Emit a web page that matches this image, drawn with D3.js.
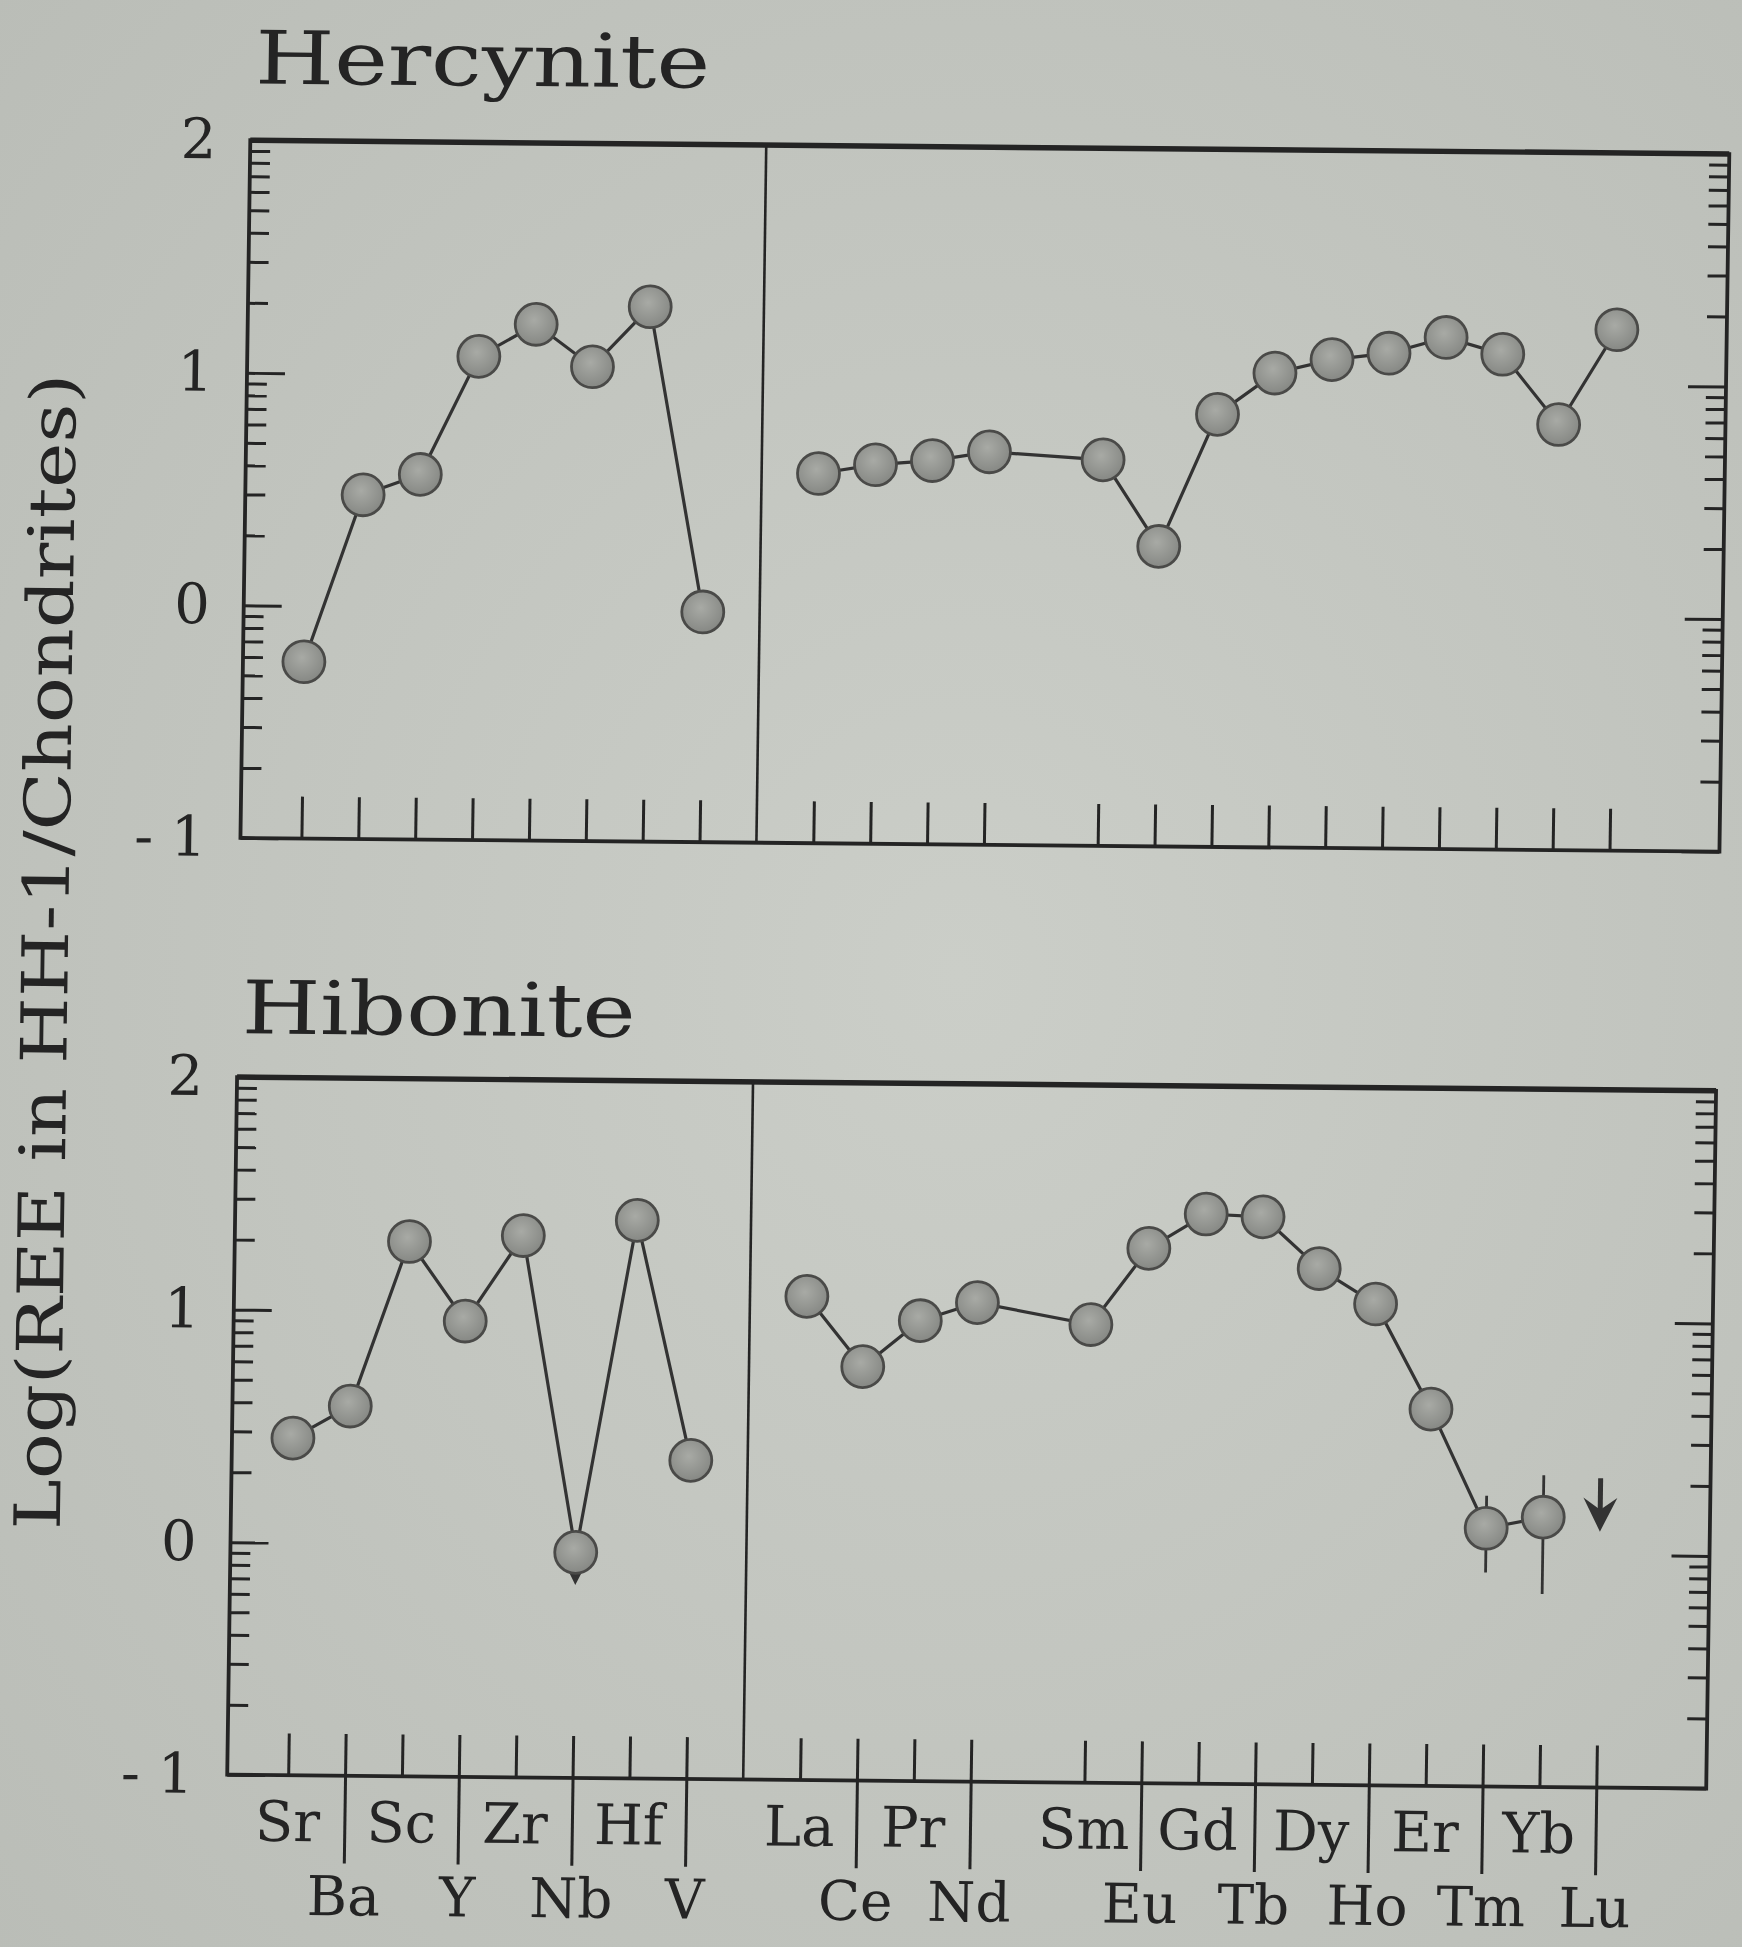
<!DOCTYPE html>
<html>
<head>
<meta charset="utf-8">
<script src="https://cdn.jsdelivr.net/npm/d3@7"></script>
<style>
  html, body { margin: 0; padding: 0; background: #c6c9c3; }
  svg { display: block; }
</style>
</head>
<body>
<svg id="chart" width="1742" height="1947"></svg>
<script>
// element order along the x axis, and the slot each one sits in (Pm slot 13 left empty)
const elements = ["Sr","Ba","Sc","Y","Zr","Nb","Hf","V","La","Ce","Pr","Nd","Sm","Eu","Gd","Tb","Dy","Ho","Er","Tm","Yb","Lu"];
const slots    = [0,1,2,3,4,5,6,7,9,10,11,12,14,15,16,17,18,19,20,21,22,23];
const leftGroup = 8;   // first 8 elements are the trace elements, the rest are REE

// log(abundance / chondrites)
const hercynite = [-0.24, 0.48, 0.57, 1.08, 1.22, 1.04, 1.30, -0.01,
                   0.59, 0.63, 0.65, 0.69, 0.66, 0.29, 0.86, 1.04, 1.10, 1.13, 1.20, 1.13, 0.83, 1.24];
const hibonite  = [0.45, 0.59, 1.30, 0.96, 1.33, -0.03, 1.40, 0.37,
                   1.08, 0.78, 0.98, 1.06, 0.97, 1.30, 1.45, 1.44, 1.22, 1.07, 0.62, 0.11, 0.16, null];

// hibonite error bars [element, low, high]
const hiboniteErr = [["Tm", -0.08, 0.25], ["Yb", -0.17, 0.34]];
// upper limits drawn as arrows [element, top, tip]
const hiboniteLimits = [["Nb", -0.03, -0.17], ["Lu", 0.33, 0.10]];

const yMajor = [-1, 0, 1, 2];
const yMinor = [-1, 0, 1].flatMap(d => [2,3,4,5,6,7,8,9].map(k => d + Math.log10(k)));

const svg = d3.select("#chart");
width = +svg.attr("width");
height = +svg.attr("height");

// paper background with a little vignetting
const defs = svg.append("defs");
const bg = defs.append("radialGradient").attr("id", "paper").attr("cx", "55%").attr("cy", "50%").attr("r", "75%");
bg.append("stop").attr("offset", "0%").attr("stop-color", "#cbcec8");
bg.append("stop").attr("offset", "100%").attr("stop-color", "#babdb7");
const dot = defs.append("radialGradient").attr("id", "dot").attr("cx", "45%").attr("cy", "40%").attr("r", "60%");
dot.append("stop").attr("offset", "0%").attr("stop-color", "#a8aaa5");
dot.append("stop").attr("offset", "100%").attr("stop-color", "#868884");

svg.append("rect").attr("width", width).attr("height", height).attr("fill", "url(#paper)");

// the photographed page is slightly tilted
const g = svg.append("g")
  .attr("transform", "matrix(0.99932,0.00929,-0.01407,0.99662,12.43,-1.49)");

const ink = "#242424";
const font = "'DejaVu Serif', serif";
const L = 240, R = 1720;

const x = d3.scaleLinear().domain([0, 23]).range([301, 1610]);

const panels = [
  { name: "Hercynite", top: 140, bottom: 840, titleY: 83, titleW: 455, data: hercynite, err: [], limits: [] },
  { name: "Hibonite", top: 1080, bottom: 1780, titleY: 1036, titleW: 394, data: hibonite, err: hiboniteErr, limits: hiboniteLimits, labels: true }
];

function styleAxis(sel) {
  sel.select(".domain").remove();
  sel.selectAll("line").attr("stroke", ink).attr("stroke-width", 3);
  sel.selectAll("text").attr("font-family", font).attr("font-size", 56).attr("fill", ink);
}

panels.forEach(p => {
  const y = d3.scaleLinear().domain([-1, 2]).range([p.bottom, p.top]);
  const pg = g.append("g");

  pg.append("text")
    .attr("x", 244).attr("y", p.titleY)
    .attr("font-family", font).attr("font-size", 74).attr("fill", ink)
    .attr("textLength", p.titleW).attr("lengthAdjust", "spacingAndGlyphs")
    .text(p.name);

  // axes ticks
  pg.append("g").attr("transform", `translate(${L},0)`)
    .call(d3.axisLeft(y).tickValues(yMinor).tickSize(-20).tickFormat(""))
    .call(styleAxis);
  pg.append("g").attr("transform", `translate(${L},0)`)
    .call(d3.axisLeft(y).tickValues(yMajor).tickSizeInner(-38).tickSizeOuter(0).tickPadding(34)
      .tickFormat(d => d < 0 ? "-\u00a0" + Math.abs(d) : d))
    .call(styleAxis);
  pg.append("g").attr("transform", `translate(${R},0)`)
    .call(d3.axisRight(y).tickValues(yMinor).tickSize(-20).tickFormat(""))
    .call(styleAxis);
  pg.append("g").attr("transform", `translate(${R},0)`)
    .call(d3.axisRight(y).tickValues(yMajor).tickSize(-38).tickFormat(""))
    .call(styleAxis);
  pg.append("g").attr("transform", `translate(0,${p.bottom})`)
    .call(d3.axisBottom(x).tickValues(slots).tickSize(-42).tickFormat(""))
    .call(styleAxis);

  // frame and divider
  pg.append("rect")
    .attr("x", L).attr("y", p.top).attr("width", R - L).attr("height", p.bottom - p.top)
    .attr("fill", "none").attr("stroke", ink).attr("stroke-width", 3.8);
  pg.append("line")
    .attr("x1", L).attr("x2", R).attr("y1", p.top).attr("y2", p.top)
    .attr("stroke", ink).attr("stroke-width", 5.5);
  pg.append("line")
    .attr("x1", x(8)).attr("x2", x(8)).attr("y1", p.top).attr("y2", p.bottom)
    .attr("stroke", ink).attr("stroke-width", 2.6);

  const pts = elements.map((e, i) => ({ e, s: slots[i], v: p.data[i], group: i < leftGroup ? 0 : 1 }));
  const line = d3.line().defined(d => d.v != null).x(d => x(d.s)).y(d => y(d.v));

  [0, 1].forEach(grp => {
    pg.append("path")
      .datum(pts.filter(d => d.group === grp))
      .attr("d", line)
      .attr("fill", "none").attr("stroke", "#333").attr("stroke-width", 3.2);
  });

  // error bars
  p.err.forEach(([e, lo, hi]) => {
    const s = slots[elements.indexOf(e)];
    pg.append("line")
      .attr("x1", x(s)).attr("x2", x(s)).attr("y1", y(lo)).attr("y2", y(hi))
      .attr("stroke", "#333").attr("stroke-width", 2.8);
  });

  // upper-limit arrows
  p.limits.forEach(([e, top, tip]) => {
    const s = slots[elements.indexOf(e)];
    const cx = x(s);
    pg.append("line")
      .attr("x1", cx).attr("x2", cx).attr("y1", y(top)).attr("y2", y(tip) - 12)
      .attr("stroke", "#333").attr("stroke-width", 5);
    pg.append("path")
      .attr("d", `M${cx - 17},${y(tip) - 34} L${cx},${y(tip) - 22} L${cx + 17},${y(tip) - 34} L${cx},${y(tip)} Z`)
      .attr("fill", "#333");
  });

  pg.selectAll("circle.pt")
    .data(pts.filter(d => d.v != null))
    .join("circle")
    .attr("class", "pt")
    .attr("cx", d => x(d.s)).attr("cy", d => y(d.v)).attr("r", 21)
    .attr("fill", "url(#dot)").attr("stroke", "#4a4a48").attr("stroke-width", 2.8);

  if (p.labels) {
    const row1 = pts.filter((d, i) => i % 2 === 0);
    const row2 = pts.filter((d, i) => i % 2 === 1);
    pg.append("g").attr("transform", `translate(0,${p.bottom})`)
      .call(d3.axisBottom(x).tickValues(row2.map(d => d.s)).tickSize(88).tickFormat(""))
      .call(styleAxis);
    pg.selectAll("text.row1").data(row1).join("text")
      .attr("class", "row1")
      .attr("x", d => x(d.s)).attr("y", 1846)
      .attr("text-anchor", "middle")
      .attr("font-family", font).attr("font-size", 56).attr("fill", ink)
      .text(d => d.e);
    pg.selectAll("text.row2").data(row2).join("text")
      .attr("class", "row2")
      .attr("x", d => x(d.s)).attr("y", 1920)
      .attr("text-anchor", "middle")
      .attr("font-family", font).attr("font-size", 55).attr("fill", ink)
      .text(d => d.e);
  }
});

g.append("text")
  .attr("transform", "translate(69,956) rotate(-90)")
  .attr("text-anchor", "middle")
  .attr("font-family", font).attr("font-size", 64).attr("fill", ink)
  .attr("textLength", 1160).attr("lengthAdjust", "spacingAndGlyphs")
  .text("Log(REE in HH-1/Chondrites)");
</script>
</body>
</html>
